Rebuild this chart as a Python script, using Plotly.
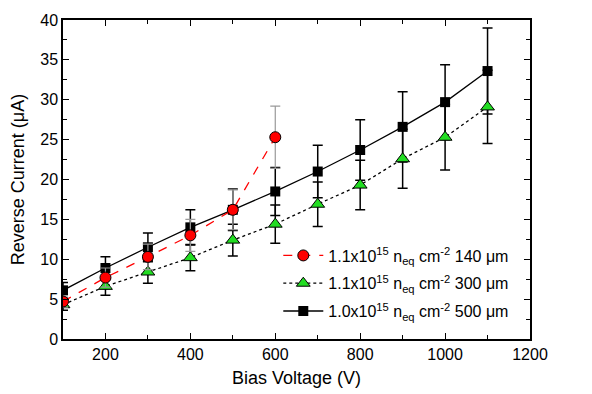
import plotly.graph_objects as go

# Bias voltage (V)
bias_140 = [100, 200, 300, 400, 500, 600]
bias_300 = [100, 200, 300, 400, 500, 600, 700, 800, 900, 1000, 1100]
bias_500 = [100, 200, 300, 400, 500, 600, 700, 800, 900, 1000, 1100]

# Reverse current (uA) and errors
cur_140 = [4.7, 7.7, 10.3, 13.0, 16.2, 25.3]
err_140 = [0.7, 1.2, 1.6, 2.0, 2.5, 3.9]
cur_300 = [4.3, 6.6, 8.4, 10.2, 12.4, 14.4, 16.9, 19.3, 22.6, 25.3, 29.1]
err_300 = [0.7, 1.1, 1.4, 1.65, 2.0, 2.4, 2.8, 3.1, 3.7, 4.1, 4.6]
cur_500 = [6.1, 8.9, 11.5, 14.0, 16.2, 18.5, 21.0, 23.7, 26.6, 29.7, 33.6]
err_500 = [1.0, 1.4, 1.8, 2.2, 2.6, 3.0, 3.3, 3.8, 4.4, 4.7, 5.4]

labels = [
    "1.1x10<sup>15</sup> n<sub>eq</sub> cm<sup>-2</sup> 140 \u03bcm",
    "1.1x10<sup>15</sup> n<sub>eq</sub> cm<sup>-2</sup> 300 \u03bcm",
    "1.0x10<sup>15</sup> n<sub>eq</sub> cm<sup>-2</sup> 500 \u03bcm",
]

fig = go.Figure()

fig.add_trace(go.Scatter(
    x=bias_500, y=cur_500, name=labels[2], mode="lines+markers",
    legendgroup="c", legendrank=3,
    line=dict(color="black", width=1.3),
    marker=dict(symbol="square", size=10, color="black"),
    error_y=dict(type="data", array=err_500, color="black", thickness=1.5, width=5),
))
fig.add_trace(go.Scatter(
    x=bias_300, y=cur_300, name=labels[1], mode="lines+markers",
    legendgroup="b", legendrank=2,
    line=dict(color="black", width=1.3, dash="dot"),
    marker=dict(symbol="triangle-up", size=12, color="#22dd22",
                line=dict(color="black", width=1)),
    error_y=dict(type="data", array=err_300, color="black", thickness=1.5, width=5),
))
fig.add_trace(go.Scatter(
    x=bias_140, y=cur_140, name=labels[0], mode="lines+markers",
    legendgroup="a", legendrank=1,
    line=dict(color="red", width=1.3, dash="dash"),
    marker=dict(symbol="circle", size=11, color="red",
                line=dict(color="black", width=1)),
    error_y=dict(type="data", array=err_140, color="#999999", thickness=1.2, width=5),
))

axis_font = dict(family="Liberation Sans, Arial", size=16, color="black")

# the page puts the plot ~8px in from the top-left corner
fig.update_layout(
    width=584, height=386,
    margin=dict(l=55, r=62, t=12, b=55),
    plot_bgcolor="white", paper_bgcolor="white",
    font=axis_font,
    legend=dict(
        x=0.461, y=0.315, xanchor="left", yanchor="top",
        traceorder="grouped", tracegroupgap=4,
        bgcolor="rgba(0,0,0,0)",
        font=dict(family="Liberation Sans, Arial", size=16, color="black"),
        itemwidth=40,
    ),
)
fig.update_xaxes(
    range=[100, 1200], tick0=200, dtick=200,
    ticks="inside", ticklen=6, tickwidth=1.3, tickcolor="black",
    minor=dict(dtick=100, ticks="inside", ticklen=4, tickcolor="black"),
    showline=True, linecolor="black", linewidth=1.5, mirror="ticks",
    showgrid=False, zeroline=False, automargin=False,
    title=dict(text="Bias Voltage (V)", font=dict(size=18), standoff=9),
    tickfont=axis_font,
)
fig.update_yaxes(
    range=[0, 40], dtick=5,
    ticks="inside", ticklen=6, tickwidth=1.3, tickcolor="black",
    minor=dict(dtick=2.5, ticks="inside", ticklen=4, tickcolor="black"),
    showline=True, linecolor="black", linewidth=1.5, mirror="ticks",
    showgrid=False, zeroline=False, automargin=False,
    title=dict(text="Reverse Current (\u03bcA)", font=dict(size=18)),
    tickfont=axis_font,
)

fig.write_html("out.html")
